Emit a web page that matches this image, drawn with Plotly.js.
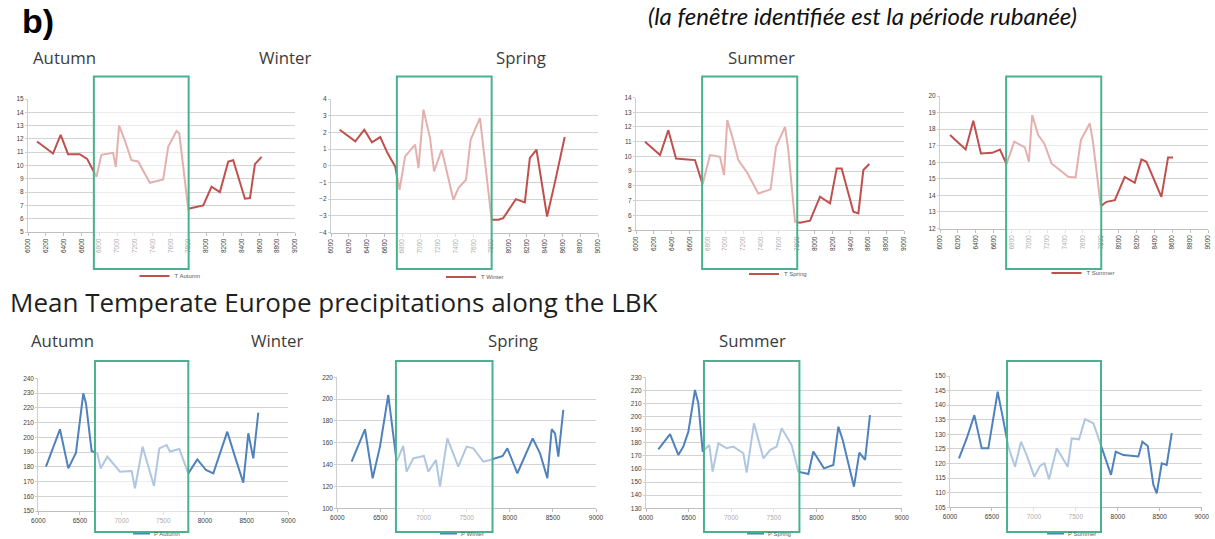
<!DOCTYPE html>
<html><head><meta charset="utf-8">
<script src="https://cdn.plot.ly/plotly-3.0.1.min.js"></script>
<style>html,body{margin:0;padding:0;background:#fff;}#chart{width:1215px;height:539px;}</style>
</head><body><div id="chart"></div>
<script>
// ---------- DATA ----------
const seasonLabels = ['Autumn', 'Winter', 'Spring', 'Summer'];
const tNames = ['T Autumn', 'T Winter', 'T Spring', 'T Summer'];
const pNames = ['P Autumn', 'P Winter', 'P Spring', 'P Summer'];
const topXTicks = [6000,6200,6400,6600,6800,7000,7200,7400,7600,7800,8000,8200,8400,8600,8800,9000];
const bottomXTicks = [6000,6500,7000,7500,8000,8500,9000];
const tWindow = [6740, 7805];
const pWindow = [6680, 7800];

const tAutumnYears = [6101,6281,6367,6450,6581,6664,6769,6825,6956,6986,7024,7087,7162,7237,7369,7519,7575,7669,7700,7800,7969,8062,8156,8250,8306,8437,8494,8550,8625];
const tAutumn      = [11.8,10.9,12.3,10.85,10.85,10.5,9.15,10.8,10.95,9.9,13.0,11.9,10.4,10.3,8.7,8.95,11.4,12.6,12.4,6.75,7.0,8.4,8.0,10.3,10.4,7.5,7.55,10.1,10.65];

const tWinterYears = [6097,6273,6374,6460,6553,6635,6721,6770,6833,6945,6983,7039,7113,7158,7244,7375,7431,7517,7569,7674,7805,7879,7935,8077,8178,8234,8309,8428,8514,8552,8626];
const tWinter      = [2.16,1.46,2.16,1.4,1.72,0.76,-0.04,-1.44,0.56,1.26,-0.14,3.36,1.66,-0.34,0.96,-2.04,-1.34,-0.84,1.56,2.86,-3.24,-3.24,-3.14,-2.0,-2.2,0.46,0.96,-3.04,-1.04,-0.04,1.72];

const tSpringYears = [6101,6269,6362,6448,6575,6660,6746,6828,6940,6985,7022,7089,7145,7239,7369,7507,7567,7668,7705,7780,7836,7948,8060,8172,8246,8302,8433,8489,8545,8612];
const tSpring      = [10.99,10.09,11.78,9.86,9.79,9.75,8.1,10.09,9.97,8.73,12.46,11.1,9.75,8.95,7.48,7.76,10.65,12.0,10.43,5.56,5.49,5.63,7.26,6.81,9.18,9.18,6.24,6.13,9.07,9.48];

const tSummerYears = [6112,6287,6373,6458,6585,6671,6745,6831,6950,6995,7032,7099,7167,7249,7435,7517,7577,7677,7712,7800,7863,7957,8068,8180,8255,8311,8478,8553,8609];
const tSummer      = [17.64,16.77,18.51,16.53,16.57,16.77,15.89,17.24,16.9,16.03,18.85,17.64,17.14,15.93,15.12,15.08,17.34,18.35,17.24,13.35,13.61,13.71,15.12,14.76,16.17,16.03,13.91,16.29,16.29];

const pAutumnYears = [6092,6180,6260,6360,6452,6540,6572,6640,6708,6748,6828,6980,7120,7160,7252,7388,7452,7540,7580,7692,7800,7908,8012,8100,8268,8360,8460,8520,8580,8640];
const pAutumn      = [180.1,193.6,205.4,178.9,189.6,229.8,223,190.7,189.1,178.9,186.9,176.7,177.1,165.4,193.6,167,192.5,194.8,190.3,192.1,175.5,185,177.8,175.5,203.8,186.9,169.2,202.7,185.7,216.7];

const pWinterYears = [6166,6321,6410,6495,6591,6688,6765,6804,6881,7005,7055,7144,7191,7276,7403,7500,7577,7693,7771,7918,7972,8088,8266,8351,8436,8486,8525,8563,8621];
const pWinter      = [142.7,172.4,127.5,156.5,203.8,142.7,157.1,133.6,145.8,147.9,133.6,144.3,119.8,164.1,138.2,156.5,155,142.7,144.3,147.9,155,132.1,164.1,150.4,127.5,172.4,168.7,147.3,190.1];

const pSpringYears = [6145,6282,6379,6438,6497,6575,6614,6665,6743,6782,6849,6946,7025,7142,7181,7267,7377,7455,7533,7592,7709,7787,7905,7963,8088,8198,8257,8308,8440,8503,8570,8628];
const pSpring      = [175,186.7,170.7,177.1,188.5,220.3,210.2,173.3,178.3,158,179.6,175.8,177.1,172,157.2,194.9,168.2,174.5,177.1,191.1,178.3,158,156.2,173.3,160.5,163.1,192.3,182.2,146.5,172.5,166.9,201.2];

const pSummerYears = [6107,6199,6290,6378,6457,6505,6568,6624,6695,6775,6846,6914,7005,7073,7125,7180,7272,7403,7451,7538,7609,7709,7808,7919,7975,8067,8245,8293,8357,8424,8464,8524,8583,8643];
const pSummer      = [121.8,128.6,136.6,125.2,125.2,133.8,144.6,136.6,125.8,118.9,127.5,122.9,115.5,119.2,120.1,114.6,125.2,118.9,128.6,128.3,135.2,133.8,125.2,116.1,124.1,122.9,122.4,127.5,126,112.7,109.8,120.1,119.5,130.4];

// ---------- LAYOUT HELPERS ----------
const W = 1215, H = 539;
const fx = p => p / W;
const fy = p => 1 - p / H;

const RED = '#c0504d', BLUE = '#4f81bd', GREEN = 'rgb(72,178,140)';
const tickFont = {family: 'Liberation Sans, Arial, sans-serif', size: 6.5, color: '#404040'};
const legFont = {family: 'Liberation Sans, Arial, sans-serif', size: 6, color: '#595959'};

const panels = [
  {years: tAutumnYears, vals: tAutumn, name: tNames[0], color: RED, top: true, xd: [28, 295], yd: [99, 232], yr: [5, 15], dy: 1, leg: [170, 276]},
  {years: tWinterYears, vals: tWinter, name: tNames[1], color: RED, top: true, xd: [331, 598], yd: [99, 232.5], yr: [-4, 4], dy: 1, leg: [475, 277]},
  {years: tSpringYears, vals: tSpring, name: tNames[2], color: RED, top: true, xd: [636, 904], yd: [97.5, 230], yr: [5, 14], dy: 1, leg: [778, 274]},
  {years: tSummerYears, vals: tSummer, name: tNames[3], color: RED, top: true, xd: [940, 1208], yd: [96, 228.5], yr: [12, 20], dy: 1, leg: [1083, 273]},
  {years: pAutumnYears, vals: pAutumn, name: pNames[0], color: BLUE, top: false, xd: [38.3, 288.3], yd: [378.3, 511], yr: [150, 240], dy: 10, leg: [133, 533.5]},
  {years: pWinterYears, vals: pWinter, name: pNames[1], color: BLUE, top: false, xd: [337.3, 596], yd: [377.3, 508.3], yr: [100, 220], dy: 20, leg: [440, 533.5]},
  {years: pSpringYears, vals: pSpring, name: pNames[2], color: BLUE, top: false, xd: [646, 901.7], yd: [377.3, 508.3], yr: [130, 230], dy: 10, leg: [747, 533.5]},
  {years: pSummerYears, vals: pSummer, name: pNames[3], color: BLUE, top: false, xd: [950, 1201.7], yd: [376, 507.3], yr: [105, 150], dy: 5, leg: [1047, 533.5]}
];

const traces = [];
const layout = {
  width: W, height: H,
  margin: {l: 0, r: 0, t: 0, b: 0},
  paper_bgcolor: '#ffffff', plot_bgcolor: '#ffffff',
  showlegend: true,
  shapes: [], annotations: []
};

panels.forEach((p, i) => {
  const n = i === 0 ? '' : String(i + 1);
  const legName = 'legend' + n;
  traces.push({
    type: 'scatter', mode: 'lines', x: p.years, y: p.vals, name: p.name,
    xaxis: 'x' + n, yaxis: 'y' + n, legend: legName, showlegend: p.top,
    line: {color: p.color, width: 2}, hoverinfo: 'x+y'
  });
  layout['xaxis' + n] = {
    domain: [fx(p.xd[0]), fx(p.xd[1])], anchor: 'y' + n,
    range: [6000, 9000], fixedrange: true,
    tickmode: 'array', tickvals: p.top ? topXTicks : bottomXTicks,
    ticktext: (p.top ? topXTicks : bottomXTicks).map(String),
    tickangle: p.top ? -90 : 0,
    showgrid: false, zeroline: false,
    showline: true, linecolor: '#bfbfbf', linewidth: 1,
    ticks: 'outside', ticklen: 3, tickcolor: '#bfbfbf',
    tickfont: tickFont
  };
  layout['yaxis' + n] = {
    domain: [fy(p.yd[1]), fy(p.yd[0])], anchor: 'x' + n,
    range: p.yr, dtick: p.dy, tick0: p.yr[0], fixedrange: true,
    showgrid: true, gridcolor: '#d3d3d3', gridwidth: 1, zeroline: false,
    showline: true, linecolor: '#cfcfcf', linewidth: 1,
    ticks: 'outside', ticklen: 2, tickcolor: '#cfcfcf',
    tickfont: tickFont
  };
  if (p.top) {
    layout[legName] = {
      x: fx(p.leg[0]), y: fy(p.leg[1]), xanchor: 'center', yanchor: 'middle',
      orientation: 'h', bgcolor: 'rgba(0,0,0,0)', borderwidth: 0,
      font: legFont, itemwidth: 30, tracegroupgap: 0
    };
  } else {
    // legend key near the bottom edge, as in the source
    layout.shapes.push({type: 'line', xref: 'paper', yref: 'paper',
      x0: fx(p.leg[0]), x1: fx(p.leg[0] + 17), y0: fy(p.leg[1]), y1: fy(p.leg[1]),
      line: {color: p.color, width: 2}});
    layout.annotations.push({text: p.name, xref: 'paper', yref: 'paper',
      x: fx(p.leg[0] + 19), y: fy(p.leg[1]), xanchor: 'left', yanchor: 'middle',
      showarrow: false, font: legFont});
  }
  const win = p.top ? tWindow : pWindow;
  layout.shapes.push({
    type: 'rect', layer: 'above', xref: 'x' + n, yref: 'paper',
    x0: win[0], x1: win[1],
    y0: p.top ? fy(269) : fy(532), y1: p.top ? fy(76.5) : fy(361),
    fillcolor: 'rgba(255,255,255,0.55)', line: {color: GREEN, width: 2}
  });
});

// ---------- TEXT ----------
const seasonFont = {family: 'Open Sans, Noto Sans, sans-serif', size: 16.8, color: '#3b3b3b'};
const topLabelX = [31, 257, 494, 726];
const botLabelX = [29, 249, 486, 717];
seasonLabels.forEach((s, k) => {
  layout.annotations.push({text: s, xref: 'paper', yref: 'paper', x: fx(topLabelX[k]), y: fy(57.5), xanchor: 'left', yanchor: 'middle', showarrow: false, font: seasonFont});
  layout.annotations.push({text: s, xref: 'paper', yref: 'paper', x: fx(botLabelX[k]), y: fy(340.5), xanchor: 'left', yanchor: 'middle', showarrow: false, font: seasonFont});
});
layout.annotations.push({text: '<b>b)</b>', xref: 'paper', yref: 'paper', x: fx(20), y: fy(21), xanchor: 'left', yanchor: 'middle', showarrow: false,
  font: {family: 'Liberation Sans, Arial, sans-serif', size: 34, color: '#000'}});
layout.annotations.push({text: '<i>(la fenêtre identifiée est la période rubanée)</i>', xref: 'paper', yref: 'paper', x: fx(646), y: fy(15), xanchor: 'left', yanchor: 'middle', showarrow: false,
  font: {family: 'Lato, Liberation Sans, sans-serif', size: 24, color: '#111'}});
layout.annotations.push({text: 'Mean Temperate Europe precipitations along the LBK', xref: 'paper', yref: 'paper', x: fx(8), y: fy(302), xanchor: 'left', yanchor: 'middle', showarrow: false,
  font: {family: 'Open Sans, Noto Sans, sans-serif', size: 26, color: '#1f1f1f'}});

Plotly.newPlot('chart', traces, layout, {displayModeBar: false, staticPlot: true});
</script></body></html>
